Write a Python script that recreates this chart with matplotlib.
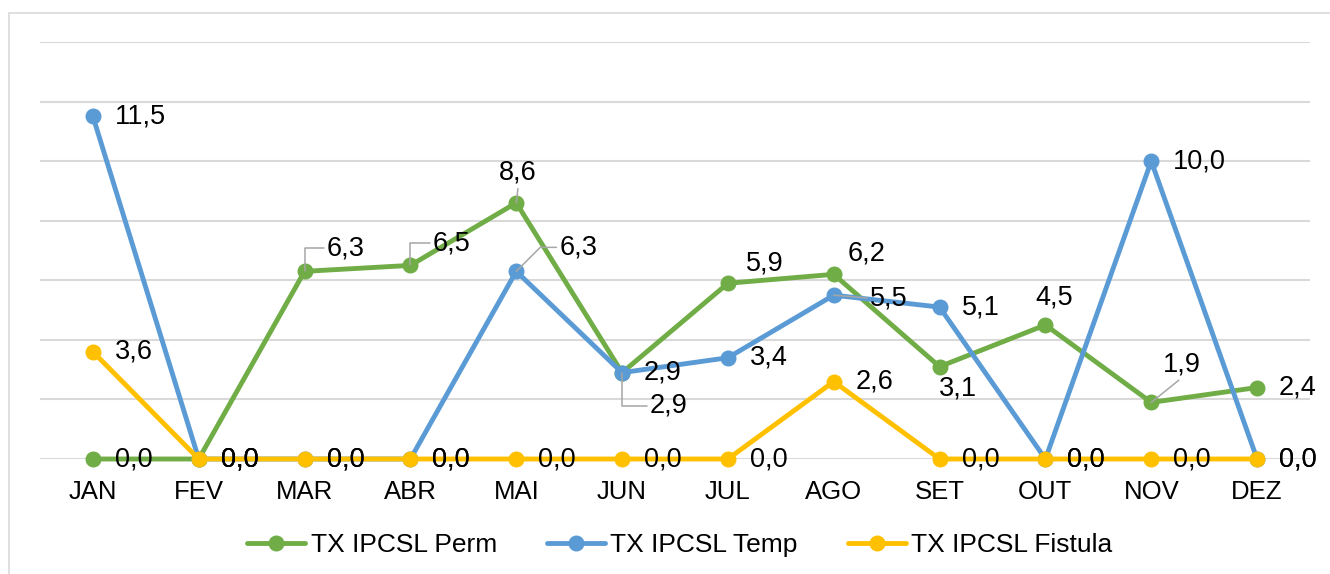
import matplotlib
matplotlib.use("Agg")
import matplotlib.pyplot as plt
from matplotlib.patches import Rectangle

# ── data ───────────────────────────────────────────────────────────────────
MONTHS = ["JAN", "FEV", "MAR", "ABR", "MAI", "JUN",
          "JUL", "AGO", "SET", "OUT", "NOV", "DEZ"]
PERM    = [0.0, 0.0, 6.3, 6.5, 8.6, 2.9, 5.9, 6.2, 3.1, 4.5, 1.9, 2.4]
TEMP    = [11.5, 0.0, 0.0, 0.0, 6.3, 2.9, 3.4, 5.5, 5.1, 0.0, 10.0, 0.0]
FISTULA = [3.6, 0.0, 0.0, 0.0, 0.0, 0.0, 0.0, 2.6, 0.0, 0.0, 0.0, 0.0]

SERIES = [
    ("TX IPCSL Perm",    PERM,    "#70AD47"),
    ("TX IPCSL Temp",    TEMP,    "#5B9BD5"),
    ("TX IPCSL Fistula", FISTULA, "#FFC000"),
]

# ── style ──────────────────────────────────────────────────────────────────
plt.rcParams.update({
    "font.family": ["Liberation Sans", "DejaVu Sans"],
    "font.size": 18,
})
GRID_C = "#D9D9D9"
LEAD_C = "#A6A6A6"
FS_TICK = 18.5
FS_LAB = 19.5
FS_LEG = 19

# label placement overrides (offset in pixels, ha, leader connection)
DEFAULT = ((22, 0), "left", None)
PLACE = {
    ("TX IPCSL Perm", 2):  ((22, 23), "left", "angle,angleA=0,angleB=90,rad=0"),
    ("TX IPCSL Perm", 3):  ((22, 22), "left", "angle,angleA=0,angleB=90,rad=0"),
    ("TX IPCSL Perm", 4):  ((2, 30), "center", "arc3"),
    ("TX IPCSL Temp", 4):  ((43, 24), "left", "angle,angleA=0,angleB=45,rad=0"),
    ("TX IPCSL Perm", 5):  ((28, -33), "left", "angle,angleA=0,angleB=90,rad=0"),
    ("TX IPCSL Perm", 6):  ((18, 20), "left", None),
    ("TX IPCSL Perm", 7):  ((14, 21), "left", None),
    ("TX IPCSL Temp", 7):  ((36, -3), "left", "arc3"),
    ("TX IPCSL Perm", 8):  ((-1, -22), "left", None),
    ("TX IPCSL Perm", 9):  ((9, 27), "center", None),
    ("TX IPCSL Perm", 10): ((31, 38), "center", "arc3"),
}

fig = plt.figure(figsize=(13.3, 5.74), dpi=100)
ax = fig.add_axes([40/1330, 1 - 459/574, 1270/1330, 417/574])

x = list(range(len(MONTHS)))
for name, vals, col in SERIES:
    ax.plot(x, vals, "-o", color=col, lw=3.5, ms=10.5, label=name,
            solid_capstyle="round", clip_on=False)

for name, vals, col in SERIES:
    for i, v in enumerate(vals):
        (dx, dy), ha, conn = PLACE.get((name, i), DEFAULT)
        kw = {}
        if conn is not None:
            if ha == "center":
                relpos = (0.5, 0.0) if dy > 0 else (0.5, 1.0)
            else:
                relpos = (0.0, 0.5)
            kw["arrowprops"] = dict(arrowstyle="-", color=LEAD_C, lw=1.1,
                                    connectionstyle=conn, relpos=relpos,
                                    shrinkA=0, shrinkB=0)
        ax.annotate(f"{v:.1f}".replace(".", ","), (i, v),
                    xytext=(dx, dy), textcoords="offset pixels",
                    ha=ha, va="center", fontsize=FS_LAB, color="black",
                    annotation_clip=False, **kw)

ax.set_xlim(-0.5, 11.5)
ax.set_ylim(0, 14)
ax.set_yticks(range(0, 15, 2))
ax.set_xticks(x)
ax.set_xticklabels(MONTHS, fontsize=FS_TICK)
ax.tick_params(axis="x", length=0, pad=15)
ax.tick_params(axis="y", left=False, labelleft=False)
ax.grid(axis="y", color=GRID_C, lw=1.5)
ax.set_axisbelow(True)
for s in ax.spines.values():
    s.set_visible(False)

ax.legend(loc="center", bbox_to_anchor=(680/1330, 1 - 545/574),
          bbox_transform=fig.transFigure, ncol=3, frameon=False,
          fontsize=FS_LEG, handlelength=2.2, handletextpad=0.2,
          columnspacing=1.9, numpoints=1)

# outer chart border (cropped at right and bottom)
fig.add_artist(Rectangle((9/1330, -0.5), 2, 0.5 + 1 - 13/574,
                         transform=fig.transFigure, fill=False,
                         ec=GRID_C, lw=1.2))

fig.savefig("out.png", dpi=100)
